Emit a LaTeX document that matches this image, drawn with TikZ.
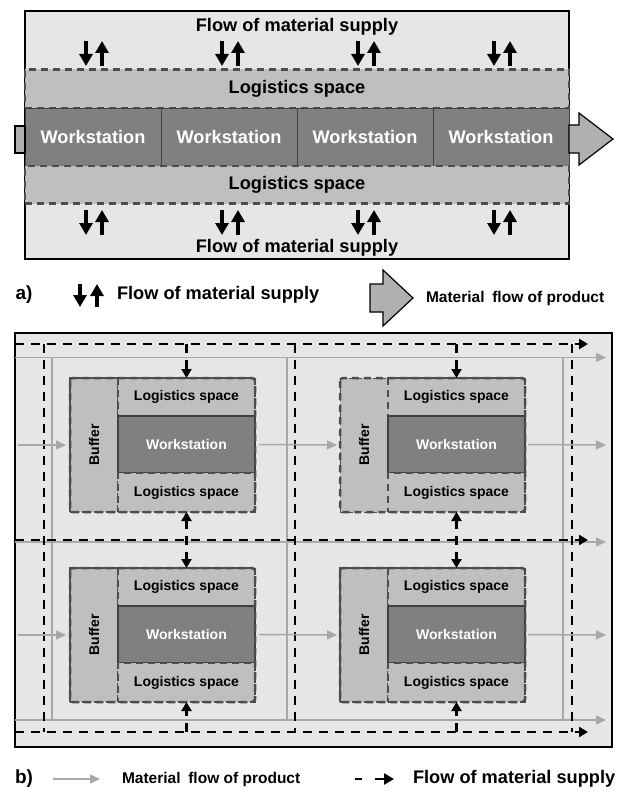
\documentclass[tikz,border=0pt]{standalone}
\usepackage{fontspec}
\setmainfont{Liberation Sans}
\usetikzlibrary{arrows.meta}
\definecolor{frameC}{HTML}{E6E6E6}
\definecolor{lsC}{HTML}{BFBFBF}
\definecolor{wsC}{HTML}{808080}
\definecolor{wsB}{HTML}{404040}
\definecolor{dashC}{HTML}{4D4D4D}
\definecolor{flowC}{HTML}{A8A8A8}
\definecolor{bigC}{HTML}{B0B0B0}
\newcommand{\bigfont}{\fontsize{18.2}{21}\selectfont\bfseries}
\newcommand{\midfont}{\fontsize{15.5}{18}\selectfont\bfseries}
\newcommand{\smfont}{\fontsize{14}{16}\selectfont\bfseries}
\tikzset{
  box/.style={anchor=north west, inner sep=0pt, outer sep=0pt},
  frame/.style={box, draw=black, fill=frameC, line width=1.5pt},
  lsA/.style={box, fill=lsC, draw=dashC, line width=2.5pt, dash pattern=on 7pt off 5pt, font=\bigfont},
  wsA/.style={box, fill=wsC, draw=wsB, line width=1pt, text=white, font=\bigfont},
  lsB/.style={box, fill=lsC, draw=dashC, line width=2.5pt, dash pattern=on 7pt off 5pt, font=\smfont},
  wsB/.style={box, fill=wsC, draw=wsB, line width=1.2pt, text=white, font=\smfont},
  bufB/.style={box, fill=lsC, draw=dashC, line width=2.5pt, dash pattern=on 7pt off 5pt},
  bufthin/.style={box, fill=lsC, draw=dashC, line width=0.8pt, dash pattern=on 5pt off 3pt},
  moddash/.style={draw=dashC, line width=2.5pt, dash pattern=on 7pt off 5pt, rounded corners=3pt},
  supA/.style={line width=3.6pt, -{Triangle[width=13pt,length=12pt]}},
  sup/.style={line width=2.5pt, dash pattern=on 9pt off 7pt, -{Triangle[width=10pt,length=9pt]}},
  supline/.style={line width=2.5pt, dash pattern=on 9pt off 7pt},
  flow/.style={draw=flowC, line width=1.5pt, -{Triangle[width=9pt,length=10pt]}},
  flowline/.style={draw=flowC, line width=1.5pt},
  bigarrow/.style={draw=black, fill=bigC, line width=1.2pt, line join=miter},
  lbl/.style={inner sep=0pt, outer sep=0pt}
}
\newcommand{\mymodule}[4]{%
  \node[#4, minimum width=48pt, minimum height=134pt] (#1buf) at (#2,#3) {};
  \node[lbl, rotate=90, font=\smfont] (#1buftxt) at (#1buf.center) {Buffer};
  \node[lsB, minimum width=137pt, minimum height=38pt] (#1lt) at (#2+48,#3) {Logistics space};
  \node[wsB, minimum width=137pt, minimum height=57pt] (#1ws) at (#2+48,#3+38) {Workstation};
  \node[lsB, minimum width=137pt, minimum height=39pt] (#1lb) at (#2+48,#3+95) {Logistics space};
  \draw[moddash] (#1buf.north west) rectangle (#1lb.south east);
}
\begin{document}
\begin{tikzpicture}[x=1pt,y=-1pt]
\useasboundingbox (0,0) rectangle (622,792);
% ---------------- part a ----------------
\node[frame, minimum width=544pt, minimum height=248pt] (aframe) at (25,11) {};
\node[lbl, font=\bigfont] (atop) at (297,27) {Flow of material supply};
\node[lbl, font=\bigfont] (abot) at (297,248) {Flow of material supply};
\node[lsA, minimum width=544pt, minimum height=38.5pt] (alsT) at (25,69.5) {Logistics space};
\node[wsA, minimum width=136pt, minimum height=58pt] (ws1) at (25,108) {Workstation};
\node[wsA, minimum width=136pt, minimum height=58pt] (ws2) at (161,108) {Workstation};
\node[wsA, minimum width=136pt, minimum height=58pt] (ws3) at (297,108) {Workstation};
\node[wsA, minimum width=136pt, minimum height=58pt] (ws4) at (433,108) {Workstation};
\node[lsA, minimum width=544pt, minimum height=37.5pt] (alsB) at (25,166) {Logistics space};
\foreach \i in {0,1,2,3}{
  \pgfmathsetmacro\cx{93+136*\i}
  \coordinate (tdA\i) at (\cx-7,41);
  \coordinate (tdB\i) at (\cx-7,66);
  \coordinate (tuA\i) at (\cx+9,66);
  \coordinate (tuB\i) at (\cx+9,41);
  \coordinate (bdA\i) at (\cx-7,210);
  \coordinate (bdB\i) at (\cx-7,235);
  \coordinate (buA\i) at (\cx+9,235);
  \coordinate (buB\i) at (\cx+9,210);
  \draw[supA] (tdA\i) -- (tdB\i);
  \draw[supA] (tuA\i) -- (tuB\i);
  \draw[supA] (bdA\i) -- (bdB\i);
  \draw[supA] (buA\i) -- (buB\i);
}
\node[box, draw=black, fill=bigC, line width=1.2pt, minimum width=10pt, minimum height=27pt] (stub) at (15,126) {};
\draw[bigarrow] (569,125) -- (579,125) -- (579,113) -- (613,139) -- (579,165) -- (579,153) -- (569,153) -- cycle;
% legend a
\node[lbl, font=\fontsize{19}{21}\selectfont\bfseries] (la) at (24,295) {a)};
\coordinate (ladA) at (80,284);
\coordinate (ladB) at (80,307);
\coordinate (lauA) at (97,307);
\coordinate (lauB) at (97,284);
\draw[supA] (ladA) -- (ladB);
\draw[supA] (lauA) -- (lauB);
\node[lbl, anchor=west, font=\bigfont] (laflow) at (117,295) {Flow of material supply};
\draw[bigarrow] (370,284) -- (383,284) -- (383,270) -- (413,298) -- (383,326) -- (383,312) -- (370,312) -- cycle;
\node[lbl, anchor=west, font=\midfont] (laprod) at (426,298) {Material\hspace{0.5em}flow of product};
% ---------------- part b ----------------
\node[frame, minimum width=597pt, minimum height=414pt] (bframe) at (15,333) {};
% grey product-flow grid
\foreach \y [count=\k] in {357.5,542,720}{
  \coordinate (gL\k) at (15,\y);
  \coordinate (gR\k) at (606,\y);
  \draw[flow] (gL\k) -- (gR\k);
}
\foreach \x [count=\k] in {52,287,563}{
  \coordinate (gT\k) at (\x,357.5);
  \coordinate (gB\k) at (\x,720);
  \draw[flowline] (gT\k) -- (gB\k);
}
% black dashed supply grid
\foreach \y [count=\k] in {344,540,732}{
  \coordinate (sL\k) at (15,\y);
  \coordinate (sR\k) at (588,\y);
  \draw[sup] (sL\k) -- (sR\k);
}
\foreach \x [count=\k] in {44,295,572}{
  \coordinate (sT\k) at (\x,344);
  \coordinate (sB\k) at (\x,732);
  \draw[supline] (sT\k) -- (sB\k);
}
% modules
\mymodule{m1}{70}{378}{bufB}
\mymodule{m2}{340}{378}{bufthin}
\mymodule{m3}{70}{568}{bufB}
\mymodule{m4}{340}{568}{bufB}
% grey product arrows through modules
\coordinate (pin1) at (18,445);
\coordinate (pout1) at (606,445);
\coordinate (pin2) at (18,635);
\coordinate (pout2) at (606,635);
\draw[flow, shorten >=4pt] (pin1) -- (m1buf.west);
\draw[flow, shorten <=4pt, shorten >=3pt] (m1ws.east) -- (m2buf.west);
\draw[flow, shorten <=3pt] (m2ws.east) -- (pout1);
\draw[flow, shorten >=4pt] (pin2) -- (m3buf.west);
\draw[flow, shorten <=4pt, shorten >=3pt] (m3ws.east) -- (m4buf.west);
\draw[flow, shorten <=3pt] (m4ws.east) -- (pout2);
% supply arrows to modules
\coordinate (topline) at (0,344);
\coordinate (botline) at (0,732);
\draw[sup] (m1lt.north |- topline) -- (m1lt.north);
\draw[sup] (m2lt.north |- topline) -- (m2lt.north);
\draw[sup, {Triangle[width=10pt,length=9pt]}-{Triangle[width=10pt,length=9pt]}] (m1lb.south) -- (m3lt.north);
\draw[sup, {Triangle[width=10pt,length=9pt]}-{Triangle[width=10pt,length=9pt]}] (m2lb.south) -- (m4lt.north);
\draw[sup] (m3lb.south |- botline) -- (m3lb.south);
\draw[sup] (m4lb.south |- botline) -- (m4lb.south);
% legend b
\node[lbl, font=\fontsize{19}{21}\selectfont\bfseries] (lb) at (24,779) {b)};
\coordinate (lbgA) at (53,779);
\coordinate (lbgB) at (100,779);
\draw[flow] (lbgA) -- (lbgB);
\node[lbl, anchor=west, font=\midfont] (lbprod) at (122,779) {Material\hspace{0.5em}flow of product};
\coordinate (lbsA) at (355,779);
\coordinate (lbsB) at (394,779);
\draw[line width=2.5pt, dash pattern=on 7pt off 13pt on 30pt, -{Triangle[width=11pt,length=10pt]}] (lbsA) -- (lbsB);
\node[lbl, anchor=west, font=\bigfont] (lbflow) at (413,779) {Flow of material supply};
\end{tikzpicture}
\end{document}
